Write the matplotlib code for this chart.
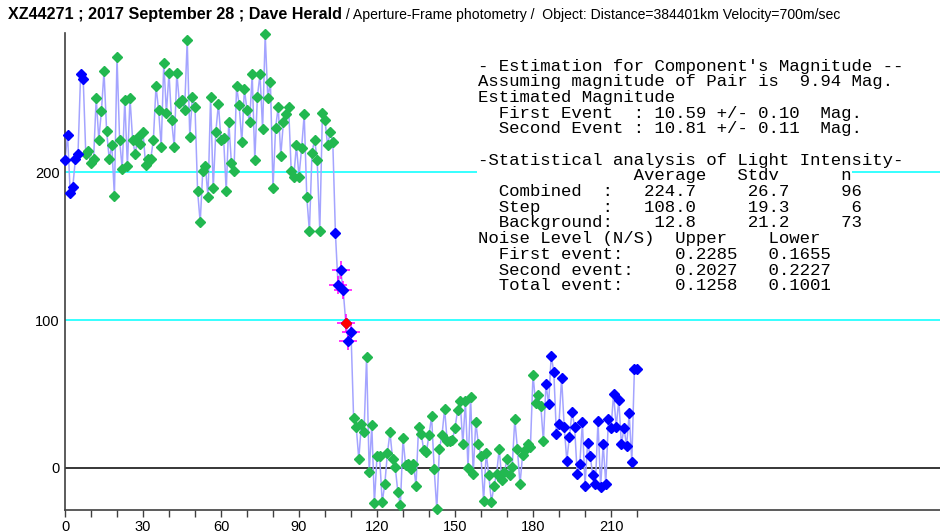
import numpy as np
import matplotlib
matplotlib.use("Agg")
import matplotlib.pyplot as plt

# light curve, one value per frame
intensity = [
    208, 225, 186, 190, 209, 212, 266, 263, 212, 214,
    206, 209, 250, 222, 241, 268, 228, 209, 218, 184,
    278, 222, 202, 249, 204, 250, 222, 212, 224, 219,
    227, 205, 209, 209, 222, 258, 242, 217, 274, 240,
    267, 235, 217, 267, 247, 249, 242, 289, 224, 251,
    244, 187, 166, 201, 204, 183, 251, 189, 227, 246,
    222, 223, 187, 234, 206, 201, 258, 245, 220, 256,
    242, 234, 266, 208, 251, 266, 229, 293, 250, 261,
    189, 230, 244, 211, 234, 239, 244, 201, 197, 218,
    197, 216, 239, 183, 160, 213, 222, 208, 160, 240,
    235, 218, 227, 220, 159, 124, 134, 120, 98, 86,
    92, 34, 28, 6, 30, 24, 75, -3, 29, -24,
    8, 8, -23, -11, 10, 24, 6, 1, -16, -25,
    20, 2, 3, -1, 3, -12, 28, 23, 12, 11,
    22, 35, -1, -28, 13, 22, 40, 18, 18, 19,
    27, 39, 45, 16, 45, 0, 48, -4, 31, 16,
    8, -22, 10, -5, -23, -12, -4, 13, -8, -3,
    6, -5, 1, 33, 13, -11, 9, 12, 16, 14,
    63, 44, 49, 42, 18, 57, 43, 76, 65, 23,
    30, 61, 28, 5, 21, 38, 28, -4, 3, 31,
    -12, 17, 8, -5, -11, 32, -13, 16, -11, 33,
    27, 50, 28, 46, 16, 27, 15, 37, 4, 67,
    67,
]
# frames drawn in blue (outside the fitted regions)
blue_frames = list(range(0, 8)) + list(range(104, 111)) + list(range(185, 221))
step_frames = [105, 106, 107, 108, 109, 110]   # magenta crosses
event_frame = 108                             # red point

ref_levels = [100, 200]
xtick_major = [0, 30, 60, 90, 120, 150, 180, 210]

title_bold = "XZ44271 ; 2017 September 28 ; Dave Herald"
title_rest = " / Aperture-Frame photometry /  Object: Distance=384401km Velocity=700m/sec"

stats_lines = [
    "- Estimation for Component's Magnitude --",
    "Assuming magnitude of Pair is  9.94 Mag.",
    "Estimated Magnitude",
    "  First Event  : 10.59 +/- 0.10  Mag.",
    "  Second Event : 10.81 +/- 0.11  Mag.",
    "",
    "-Statistical analysis of Light Intensity-",
    "               Average   Stdv      n",
    "  Combined  :   224.7     26.7     96",
    "  Step      :   108.0     19.3      6",
    "  Background:    12.8     21.2     73",
    "Noise Level (N/S)  Upper    Lower",
    "  First event:     0.2285   0.1655",
    "  Second event:    0.2027   0.2227",
    "  Total event:     0.1258   0.1001",
]

W, H = 940, 532
fig = plt.figure(figsize=(W / 100, H / 100), dpi=100)
ax = fig.add_axes([65 / W, 22 / H, (W - 65) / W, 477 / H])

frames = np.arange(len(intensity))
vals = np.array(intensity)
is_blue = np.isin(frames, blue_frames)

ax.axhline(0, color="black", lw=1.1, zorder=1)
for lev in ref_levels:
    ax.axhline(lev, color="#00ffff", lw=1.1, zorder=1)

ax.plot(frames, vals, color="#a4a4ff", lw=1.1, zorder=2)
ax.plot(frames[~is_blue], vals[~is_blue], "D", color="#22b850", ms=5.3,
        mec="#22b850", zorder=3, clip_on=False)
ax.plot(frames[is_blue], vals[is_blue], "D", color="#0000ff", ms=5.3,
        mec="#0000ff", zorder=3, clip_on=False)
ax.plot(frames[step_frames], vals[step_frames], "+", color="#ff00ff",
        ms=13, mew=1.1, zorder=2.5)
ax.plot([event_frame], [vals[event_frame]], "D", color="#ff0000", ms=5.3,
        mec="#ff0000", zorder=4)

ax.set_xlim(0, 875 / 2.6)
ax.set_ylim(-28.4, 294)

for side in ["top", "right"]:
    ax.spines[side].set_visible(False)
for side in ["left", "bottom"]:
    ax.spines[side].set_color("#404040")
    ax.spines[side].set_linewidth(1.2)

ax.set_xticks(range(0, 221, 10))
ax.set_xticklabels([str(t) if t in xtick_major else "" for t in range(0, 221, 10)])
ax.tick_params(axis="x", length=5, width=1, color="#404040", pad=2,
               labelsize=10.5)
ax.set_yticks([0, 100, 200])
ax.tick_params(axis="y", length=0, pad=4, labelsize=10.5)
for lab in ax.get_xticklabels() + ax.get_yticklabels():
    lab.set_fontfamily("Liberation Sans")

# title: bold part, then plain part right after it
t1 = fig.text(8 / W, 1 - 15 / H, title_bold, fontfamily="Liberation Sans",
              fontweight="bold", fontsize=11.6, va="center")
renderer = fig.canvas.get_renderer()
bb = t1.get_window_extent(renderer)
fig.text(bb.x1 / W, 1 - 15 / H, title_rest, fontfamily="Liberation Sans",
         fontsize=10.05, va="center")

# statistics block, one line at a time, on white
y0 = 66
for i, line in enumerate(stats_lines):
    if not line:
        continue
    fig.text(478 / W, 1 - (y0 + i * 15.7) / H, line, fontfamily="Liberation Mono",
             fontsize=12.5, va="center", ha="left", zorder=10,
             bbox=dict(facecolor="white", edgecolor="none", pad=0.5))

fig.savefig("out.png", dpi=100)
